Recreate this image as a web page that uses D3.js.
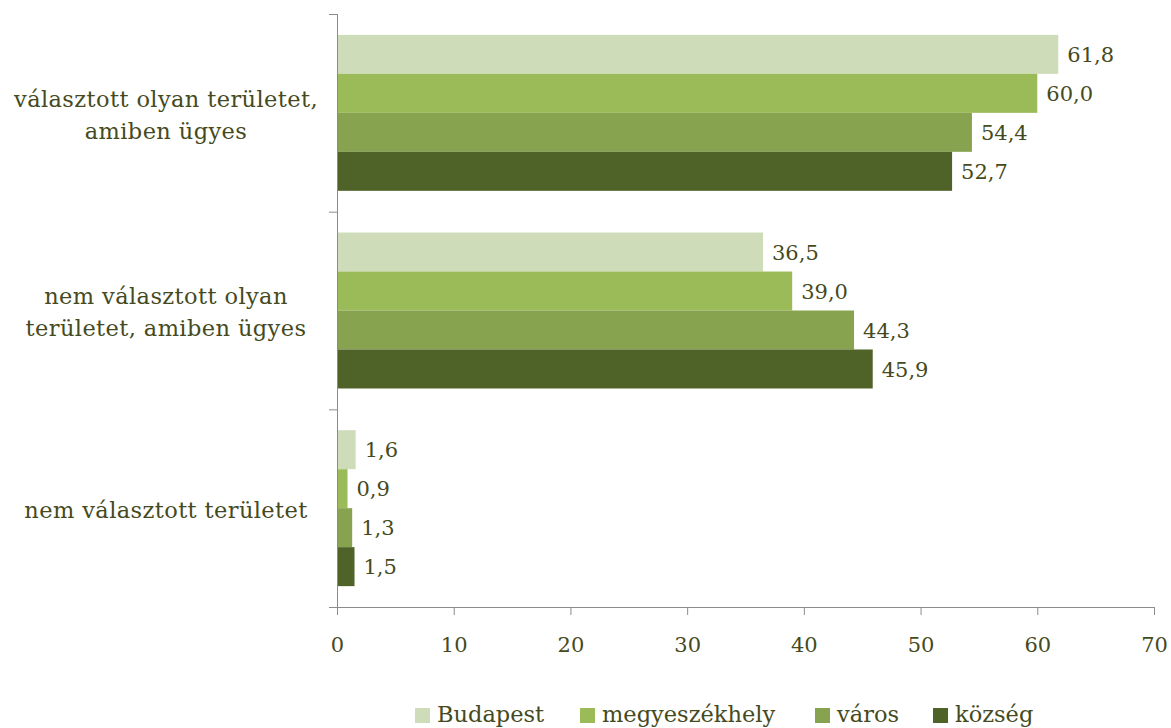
<!DOCTYPE html>
<html><head><meta charset="utf-8">
<script src="https://cdn.jsdelivr.net/npm/d3@7"></script>
<style>body{margin:0;background:#fff;} text{font-family:"DejaVu Serif",serif;}</style>
</head><body>
<svg id="c" width="1171" height="728"></svg>
<script>
const categories = [
  ["választott olyan területet,", "amiben ügyes"],
  ["nem választott olyan", "területet, amiben ügyes"],
  ["nem választott területet"]
];
const seriesNames = ["Budapest", "megyeszékhely", "város", "község"];
const colors = ["#cfdcba", "#9bbb59", "#87a34f", "#4f6228"];
const budapest = [61.8, 36.5, 1.6];
const megyeszekhely = [60.0, 39.0, 0.9];
const varos = [54.4, 44.3, 1.3];
const kozseg = [52.7, 45.9, 1.5];
const xTicks = [0, 10, 20, 30, 40, 50, 60, 70];
const seriesValues = [budapest, megyeszekhely, varos, kozseg];
const textColor = "#454a20";

(function(){
const svg = d3.select("#c");
const mL = 337, mR = 1154, mT = 14, mB = 607;
const x = d3.scaleLinear().domain([0, 70]).range([mL, mR]);
const y = d3.scaleBand().domain(d3.range(categories.length)).range([mT, mB]).paddingInner(0).paddingOuter(0);
const inner = d3.scaleBand().domain(d3.range(seriesNames.length)).range([0, y.bandwidth()]).paddingInner(0).paddingOuter(0.535);

seriesValues.forEach((vals, s) => {
  svg.append("g").selectAll("rect").data(vals).join("rect")
    .attr("x", x(0)).attr("y", (d, i) => y(i) + inner(s))
    .attr("width", d => x(d) - x(0)).attr("height", inner.bandwidth())
    .attr("fill", colors[s]);
  svg.append("g").selectAll("text").data(vals).join("text")
    .attr("x", d => x(d) + 9).attr("y", (d, i) => y(i) + inner(s) + inner.bandwidth() / 2)
    .attr("dy", "0.36em").attr("font-size", 21).attr("fill", textColor)
    .text(d => d.toFixed(1).replace(".", ","));
});

const xAxis = svg.append("g").attr("transform", `translate(0,${mB})`)
  .call(d3.axisBottom(x).tickValues(xTicks).tickSize(8).tickSizeOuter(0).tickPadding(22));
xAxis.select(".domain").attr("stroke", "#8c8c8c").attr("d", `M${mL - 8},0.5H${mR}`);
xAxis.selectAll(".tick line").attr("stroke", "#8c8c8c");
xAxis.selectAll(".tick text").attr("font-size", 21).attr("fill", textColor).attr("font-family", "DejaVu Serif");

const yAxisG = svg.append("g");
yAxisG.append("line").attr("x1", mL + 0.5).attr("x2", mL + 0.5).attr("y1", mT).attr("y2", mB).attr("stroke", "#8c8c8c");
const bounds = [0, 1, 2].map(i => y(i));
yAxisG.selectAll("line.t").data(bounds).join("line").attr("class", "t")
  .attr("x1", mL - 8).attr("x2", mL).attr("y1", d => d + 0.5).attr("y2", d => d + 0.5).attr("stroke", "#8c8c8c");

categories.forEach((lines, i) => {
  const cy = y(i) + y.bandwidth() / 2;
  const lh = 32;
  const t = svg.append("text").attr("text-anchor", "middle").attr("font-size", 22.5)
    .attr("letter-spacing", 0.4).attr("fill", textColor);
  lines.forEach((ln, j) => {
    t.append("tspan").attr("x", 166).attr("y", cy + (j - (lines.length - 1) / 2) * lh + 3).attr("dy", "0.3em").text(ln);
  });
});

const legendX = [415, 580, 815, 933];
const lg = svg.append("g");
seriesNames.forEach((n, i) => {
  lg.append("rect").attr("x", legendX[i]).attr("y", 708).attr("width", 15).attr("height", 15).attr("fill", colors[i]);
  lg.append("text").attr("x", legendX[i] + 22).attr("y", 722).attr("font-size", 22.5).attr("fill", textColor).text(n);
});
})();
</script>
</body></html>
